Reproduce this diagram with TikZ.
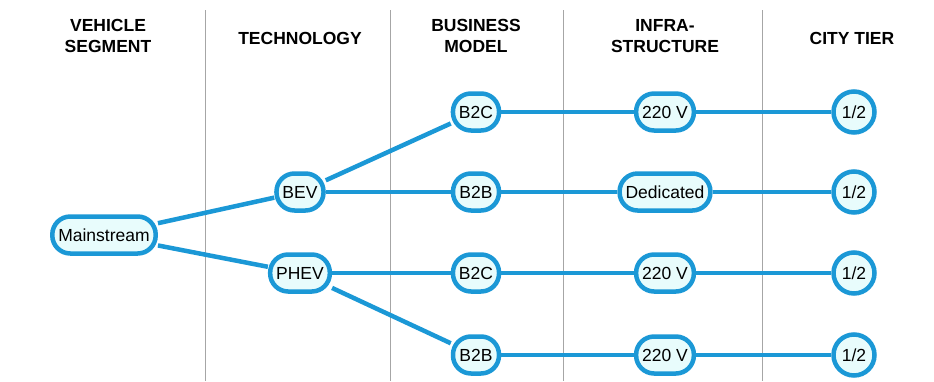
\documentclass[tikz,border=0pt]{standalone}
\usepackage{fontspec}
\setmainfont{Liberation Sans}
\definecolor{evblue}{RGB}{27,152,214}
\definecolor{evfill}{RGB}{232,252,252}
\tikzset{
  opt/.style={draw=evblue,fill=evfill,line width=4.5pt,rounded corners=18pt,
    minimum height=37pt,minimum width=46pt,inner xsep=6pt,
    font=\fontsize{17.5}{20}\selectfont},
  tier/.style={draw=evblue,fill=evfill,line width=4.5pt,circle,minimum size=41pt,
    inner sep=0pt,font=\fontsize{17.5}{20}\selectfont},
  link/.style={evblue,line width=4.5pt},
  head/.style={align=center,font=\bfseries\fontsize{17.5}{21}\selectfont},
  sep/.style={gray!70,line width=1pt}
}
\begin{document}
\begin{tikzpicture}[x=1pt,y=-1pt]
\useasboundingbox (0,0) rectangle (934,381);
% column separators
\foreach \sx in {205,390,563,762}
  \draw[sep] (\sx,10) -- (\sx,381);
% headers
\node[head] (hseg) at (108,36) {VEHICLE\\SEGMENT};
\node[head] (htech) at (300,38) {TECHNOLOGY};
\node[head] (hbm) at (476,36) {BUSINESS\\MODEL};
\node[head] (hinf) at (665,36) {INFRA-\\STRUCTURE};
\node[head] (htier) at (852,38) {CITY TIER};
% options
\node[opt] (main) at (104,235) {Mainstream};
\node[opt] (bev) at (300,192) {BEV};
\node[opt] (phev) at (300,273) {PHEV};
\node[opt] (bmA) at (476,112) {B2C};
\node[opt] (bmB) at (476,192) {B2B};
\node[opt] (bmC) at (476,273) {B2C};
\node[opt] (bmD) at (476,355) {B2B};
\node[opt] (infA) at (665,112) {220 V};
\node[opt] (infB) at (665,192) {Dedicated};
\node[opt] (infC) at (665,273) {220 V};
\node[opt] (infD) at (665,355) {220 V};
\node[tier] (tierA) at (854,112) {1/2};
\node[tier] (tierB) at (854,192) {1/2};
\node[tier] (tierC) at (854,273) {1/2};
\node[tier] (tierD) at (854,355) {1/2};
% links
\draw[link] (main) -- (bev);
\draw[link] (main) -- (phev);
\draw[link] (bev) -- (bmA);
\draw[link] (bev) -- (bmB);
\draw[link] (phev) -- (bmC);
\draw[link] (phev) -- (bmD);
\foreach \r in {A,B,C,D}{
  \draw[link] (bm\r) -- (inf\r);
  \draw[link] (inf\r) -- (tier\r);
}
\end{tikzpicture}
\end{document}
